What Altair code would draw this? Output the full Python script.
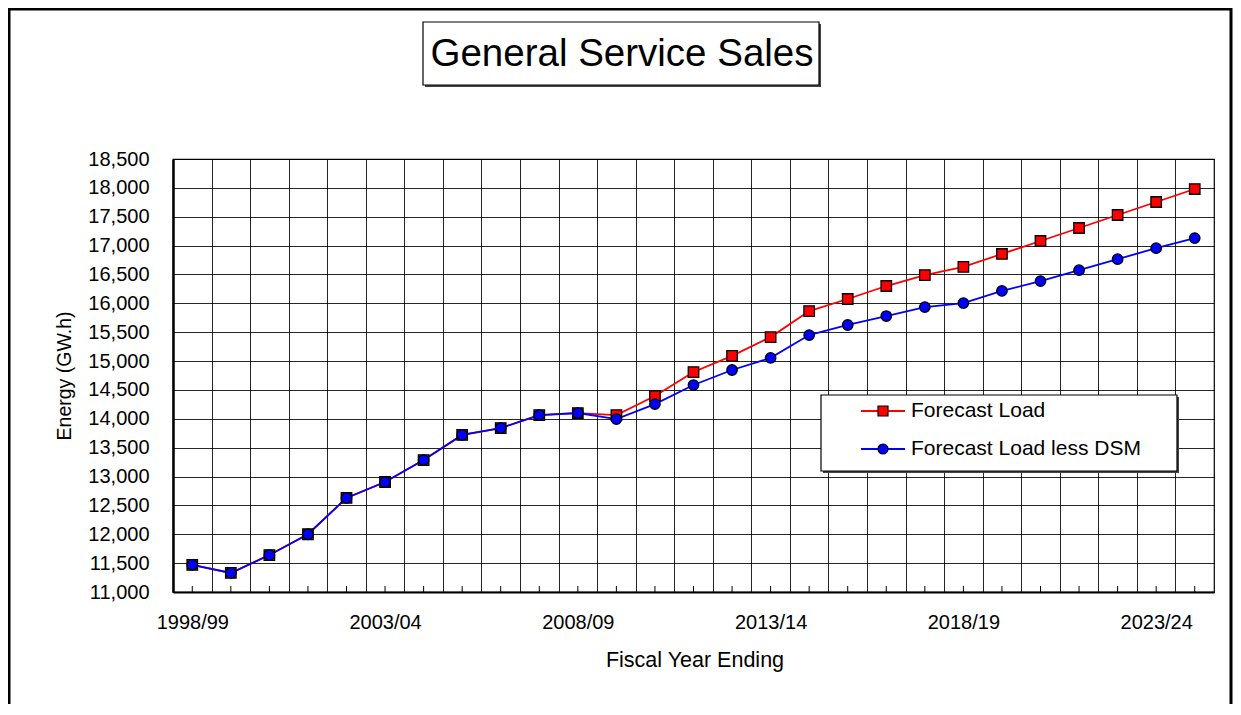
import altair as alt
import pandas as pd

years = ["1998/99", "1999/00", "2000/01", "2001/02", "2002/03", "2003/04", "2004/05",
         "2005/06", "2006/07", "2007/08", "2008/09", "2009/10", "2010/11", "2011/12",
         "2012/13", "2013/14", "2014/15", "2015/16", "2016/17", "2017/18", "2018/19",
         "2019/20", "2020/21", "2021/22", "2022/23", "2023/24", "2024/25"]
forecast_load = [11470, 11330, 11640, 12000, 12630, 12905, 13285, 13720, 13840, 14065,
                 14100, 14065, 14395, 14810, 15090, 15415, 15865, 16075, 16300, 16490,
                 16630, 16855, 17080, 17305, 17530, 17755, 17980]
forecast_less_dsm = [11470, 11330, 11640, 12000, 12630, 12905, 13285, 13720, 13840, 14065,
                     14100, 13995, 14255, 14585, 14845, 15055, 15450, 15625, 15780, 15935,
                     16005, 16215, 16385, 16575, 16765, 16955, 17130]
series_names = ["Forecast Load", "Forecast Load less DSM"]
series_colors = ["#FF0000", "#0000FF"]
series_shapes = ["square", "circle"]
title_text = "General Service Sales"
y_ticks = list(range(11000, 18501, 500))

rows = []
for i, y in enumerate(years):
    rows.append({"idx": i, "year": y, "series": series_names[0], "value": forecast_load[i], "order": 0})
for i, y in enumerate(years):
    rows.append({"idx": i, "year": y, "series": series_names[1], "value": forecast_less_dsm[i], "order": 1})
df = pd.DataFrame(rows)
pos_df = pd.DataFrame({"idx": list(range(len(years)))})
leg_df = pd.DataFrame({"series": series_names})
title_df = pd.DataFrame({"t": [title_text]})

W, H = 1041, 433
FONT = "Liberation Sans"
n = len(years)
band = W / n
boundaries = [i - 0.5 for i in range(n)]

xscale = alt.Scale(domain=[-0.5, n - 0.5], nice=False, zero=False)
yscale = alt.Scale(domain=[11000, 18500], nice=False, zero=False)
color = alt.Color("series:N", scale=alt.Scale(domain=series_names, range=series_colors), legend=None)
fill = alt.Fill("series:N", scale=alt.Scale(domain=series_names, range=series_colors), legend=None)
shape = alt.Shape("series:N", scale=alt.Scale(domain=series_names, range=series_shapes), legend=None)

label_js = "[" + ",".join("'" + y + "'" for y in years) + "]"
label_expr = ("(round(datum.value + 0.5) % 5 == 0) ? " + label_js + "[round(datum.value + 0.5)] : ''")

x_axis = alt.Axis(values=boundaries, grid=True, ticks=False, labelExpr=label_expr,
                  labelOffset=band / 2, labelPadding=20, labelFontSize=20, labelFont=FONT,
                  labelColor="black", title="Fiscal Year Ending", titleFont=FONT,
                  titleFontSize=21.5, titleFontWeight="normal", titleColor="black",
                  titleY=68, titleBaseline="middle", titleX=W / 2 + 1,
                  domainColor="black", domainWidth=2, gridColor="#000000", gridOpacity=0.85,
                  labelFlush=False, labelOverlap=False, labelBound=False)
y_axis = alt.Axis(values=y_ticks, grid=True, ticks=False, format=",.0f", labelPadding=24,
                  labelFontSize=20, labelFont=FONT, labelColor="black",
                  title="Energy (GW.h)", titleFont=FONT, titleFontSize=19.5,
                  titleFontWeight="normal", titleColor="black", titleX=-109, titleY=H / 2,
                  titleBaseline="middle", titleAlign="center", titleAngle=-90,
                  domainColor="black", domainWidth=2.5, gridColor="#000000", gridOpacity=0.85,
                  labelOverlap=False, labelFlush=False, labelBound=False)

X = alt.X("idx:Q", scale=xscale, axis=x_axis)
Y = alt.Y("value:Q", scale=yscale, axis=y_axis)

base = alt.Chart(df)
lines = base.mark_line(strokeWidth=1.8).encode(
    x=X, y=Y, color=color, detail="series:N", order="idx:Q")
points = base.mark_point(filled=True, size=110, stroke="black", strokeWidth=1.3, opacity=1).encode(
    x=X, y=Y, fill=fill, shape=shape, order="order:Q")
xticks = alt.Chart(pos_df).mark_rule(color="black", strokeWidth=1).encode(
    x=X, y=alt.value(H), y2=alt.value(H - 6))

# title box
title_box = alt.Chart(title_df).mark_rect(fill="white", stroke="black", strokeWidth=1.2).encode(
    x=alt.value(250), x2=alt.value(646), y=alt.value(-137), y2=alt.value(-74))
title_shadow = alt.Chart(title_df).mark_rect(fill="#444444").encode(
    x=alt.value(252), x2=alt.value(648), y=alt.value(-135), y2=alt.value(-72))
title_txt = alt.Chart(title_df).mark_text(font=FONT, fontSize=38.5, color="black",
                                          baseline="middle", align="center").encode(
    text="t:N", x=alt.value(449), y=alt.value(-105))

# legend
leg_shadow = alt.Chart(title_df).mark_rect(fill="#444444").encode(
    x=alt.value(650), x2=alt.value(1006), y=alt.value(238), y2=alt.value(314))
leg_box = alt.Chart(title_df).mark_rect(fill="white", stroke="black", strokeWidth=1.2).encode(
    x=alt.value(648), x2=alt.value(1004), y=alt.value(236), y2=alt.value(312))
leg_layers = []
for name, ypos in zip(series_names, [252, 290]):
    src = alt.Chart(leg_df).transform_filter(alt.datum.series == name)
    leg_layers.append(src.mark_rule(strokeWidth=1.8).encode(
        x=alt.value(688), x2=alt.value(732), y=alt.value(ypos), color=color))
    leg_layers.append(src.mark_point(filled=True, size=100, stroke="black", strokeWidth=1.2,
                                     opacity=1).encode(
        x=alt.value(710), y=alt.value(ypos), fill=fill, shape=shape))
    leg_layers.append(src.mark_text(font=FONT, fontSize=21, color="black", align="left",
                                    baseline="middle").encode(
        x=alt.value(738), y=alt.value(ypos), text="series:N"))

frame = alt.Chart(title_df).mark_rect(fill=None, stroke="black", strokeWidth=3).encode(
    x=alt.value(-164), x2=alt.value(1058), y=alt.value(-150), y2=alt.value(580))

chart = alt.layer(lines, points, xticks, title_shadow, title_box, title_txt,
                  leg_shadow, leg_box, *leg_layers, frame).properties(
    width=W, height=H, autosize="none",
    padding={"left": 165, "top": 151, "right": 19, "bottom": 112},
    background="white").configure_view(stroke="black", strokeWidth=1.2)

chart.save("out.html", embed_options={"renderer": "svg", "actions": False})
